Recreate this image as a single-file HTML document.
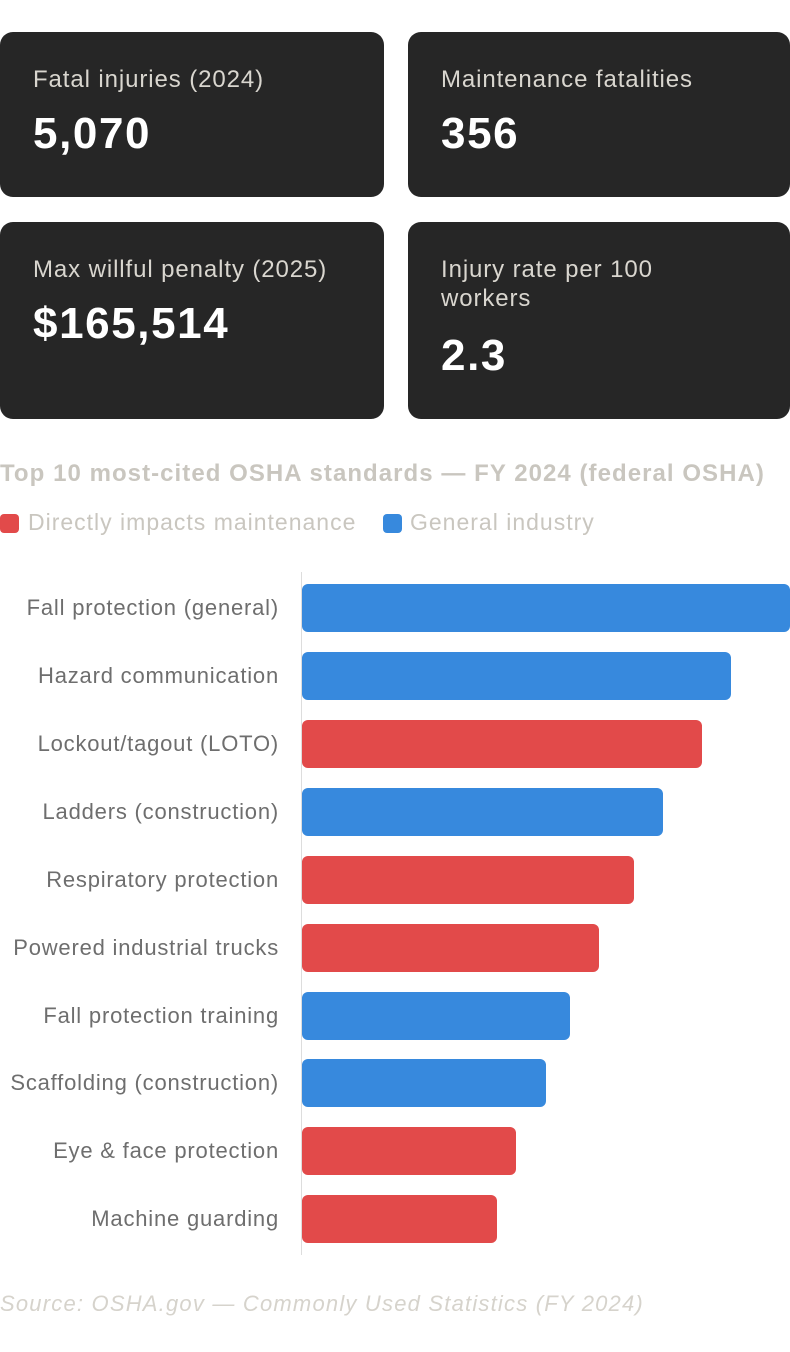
<!DOCTYPE html>
<html><head><meta charset="utf-8"><style>
body{margin:0;width:790px;height:1352px;background:#fff;font-family:"Liberation Sans",sans-serif;position:relative;overflow:hidden}
.card{position:absolute;background:#262626;border-radius:13px;color:#fff}
.card .t{position:absolute;left:33px;top:33px;font-size:24px;letter-spacing:0.9px;color:#d9d6cf;line-height:29px;width:330px}
.card .v{position:absolute;left:33px;font-size:44px;letter-spacing:1.6px;font-weight:bold;color:#fff}
.lbl{position:absolute;right:511px;font-size:22px;letter-spacing:0.8px;color:#6e6e6e;white-space:nowrap;line-height:48px}
.bar{position:absolute;left:302px;height:48px;border-radius:6px}
.b{background:#3789dd}.r{background:#e24a4a}
</style></head><body>
<div class="card" style="left:0;top:32px;width:384px;height:165px"><div class="t">Fatal injuries (2024)</div><div class="v" style="top:77px">5,070</div></div>
<div class="card" style="left:408px;top:32px;width:382px;height:165px"><div class="t">Maintenance fatalities</div><div class="v" style="top:77px">356</div></div>
<div class="card" style="left:0;top:222px;width:384px;height:197px"><div class="t">Max willful penalty (2025)</div><div class="v" style="top:77px">$165,514</div></div>
<div class="card" style="left:408px;top:222px;width:382px;height:197px"><div class="t" style="width:260px">Injury rate per 100 workers</div><div class="v" style="top:109px">2.3</div></div>
<div style="position:absolute;left:0;top:460px;font-size:24px;letter-spacing:1.05px;font-weight:bold;color:#c9c6bf">Top 10 most-cited OSHA standards — FY 2024 (federal OSHA)</div>
<div style="position:absolute;left:0;top:514px;width:19px;height:19px;border-radius:4px;background:#e24a4a"></div>
<div style="position:absolute;left:28px;top:509px;font-size:23px;letter-spacing:1px;color:#c9c6bf">Directly impacts maintenance</div>
<div style="position:absolute;left:383px;top:514px;width:19px;height:19px;border-radius:4px;background:#3789dd"></div>
<div style="position:absolute;left:410px;top:509px;font-size:23px;letter-spacing:1px;color:#c9c6bf">General industry</div>
<div style="position:absolute;left:301px;top:572px;width:1px;height:683px;background:#ddd"></div>
<div class="lbl" style="top:584px">Fall protection (general)</div><div class="bar b" style="top:584px;width:488px"></div>
<div class="lbl" style="top:652px">Hazard communication</div><div class="bar b" style="top:652px;width:429px"></div>
<div class="lbl" style="top:720px">Lockout/tagout (LOTO)</div><div class="bar r" style="top:720px;width:400px"></div>
<div class="lbl" style="top:788px">Ladders (construction)</div><div class="bar b" style="top:788px;width:361px"></div>
<div class="lbl" style="top:856px">Respiratory protection</div><div class="bar r" style="top:856px;width:332px"></div>
<div class="lbl" style="top:924px">Powered industrial trucks</div><div class="bar r" style="top:924px;width:297px"></div>
<div class="lbl" style="top:992px">Fall protection training</div><div class="bar b" style="top:992px;width:268px"></div>
<div class="lbl" style="top:1059px">Scaffolding (construction)</div><div class="bar b" style="top:1059px;width:244px"></div>
<div class="lbl" style="top:1127px">Eye &amp; face protection</div><div class="bar r" style="top:1127px;width:214px"></div>
<div class="lbl" style="top:1195px">Machine guarding</div><div class="bar r" style="top:1195px;width:195px"></div>
<div style="position:absolute;left:0;top:1291px;font-size:22px;letter-spacing:1.2px;font-style:italic;color:#d6d3cc">Source: OSHA.gov — Commonly Used Statistics (FY 2024)</div>
</body></html>
